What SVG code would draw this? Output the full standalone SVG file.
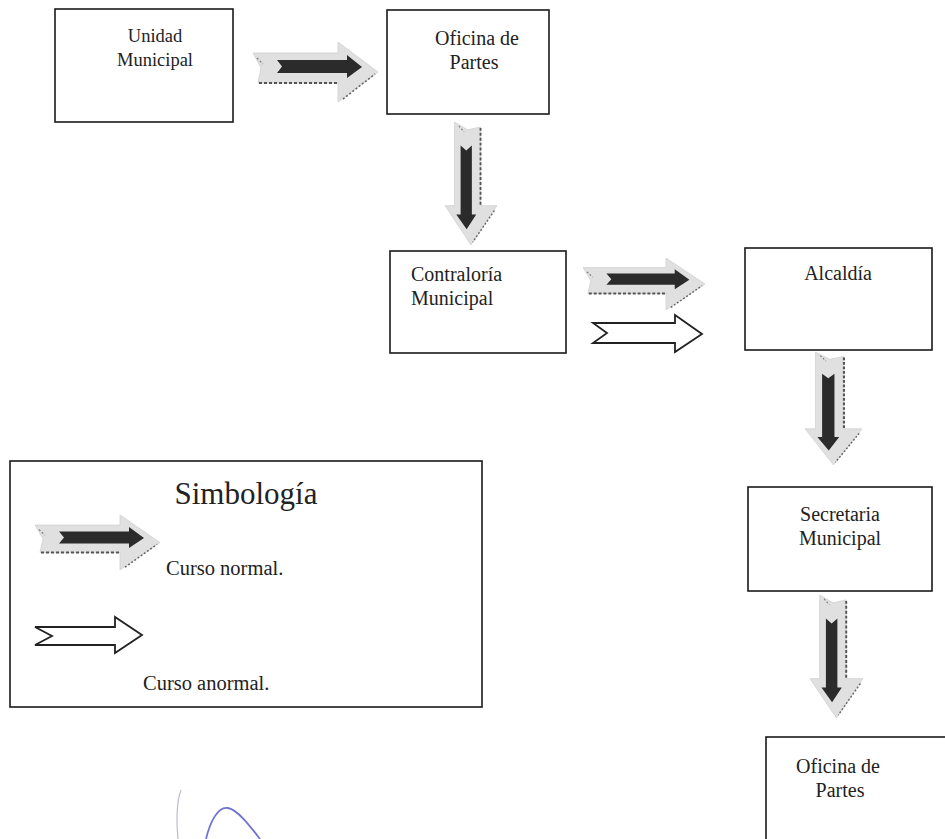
<svg xmlns="http://www.w3.org/2000/svg" xmlns:xlink="http://www.w3.org/1999/xlink" width="945" height="839" viewBox="0 0 945 839">
<defs>
<style>
.box{fill:#fff;stroke:#1a1a1a;stroke-width:1.6}
.t{font-family:"Liberation Serif","Times New Roman",serif;font-size:20px;fill:#222}
.c{text-anchor:middle}
.hollow{fill:#fff;stroke:#222;stroke-width:1.8;stroke-linejoin:miter}
</style>
<symbol id="nrm" viewBox="0 0 125 60" preserveAspectRatio="none">
<polygon points="0,11 85,11 85,0 125,30 85,60 85,41 5,41 8,26" fill="#e0e0e0" stroke="#cfcfcf" stroke-width="0.8"/>
<line x1="6" y1="41" x2="84" y2="41" stroke="#555" stroke-width="2.2" stroke-dasharray="3,2"/>
<line x1="90" y1="57" x2="122" y2="32" stroke="#666" stroke-width="1.6" stroke-dasharray="2,2"/>
<line x1="4" y1="16" x2="10" y2="22" stroke="#777" stroke-width="1.2" stroke-dasharray="2,2"/>
<polygon points="24,18 94,18 94,13 109,25 94,36 94,31 24,31 29,24.5" fill="#2b2b2b"/>
</symbol>
</defs>
<rect width="945" height="839" fill="#fff"/>
<g id="connectors">
<use xlink:href="#nrm" x="253" y="42" width="125" height="60"/>
<use xlink:href="#nrm" width="123" height="52" transform="translate(445,122) rotate(90) scale(1,-1)"/>
<use xlink:href="#nrm" x="583" y="258" width="122" height="52"/>
<polygon class="hollow" points="593,323 675,323 675,315 702,334 675,352 675,343 593,343 607,333"/>
<use xlink:href="#nrm" width="113" height="57" transform="translate(805,352) rotate(90) scale(1,-1)"/>
<use xlink:href="#nrm" width="123" height="53" transform="translate(810,595) rotate(90) scale(1,-1)"/>
</g>
<g id="unidad-municipal">
<rect class="box" x="55" y="9" width="178" height="113"/>
<text class="t c" x="155" y="42" style="font-size:18.5px">Unidad</text>
<text class="t c" x="155" y="66" style="font-size:18.5px">Municipal</text>
</g>
<g id="oficina-partes-1">
<rect class="box" x="387" y="10" width="162" height="104"/>
<text class="t c" x="477" y="45">Oficina de</text>
<text class="t c" x="474" y="69">Partes</text>
</g>
<g id="contraloria">
<rect class="box" x="390" y="251" width="176" height="102"/>
<text class="t" x="411" y="281">Contraloría</text>
<text class="t" x="411" y="305">Municipal</text>
</g>
<g id="alcaldia">
<rect class="box" x="745" y="248" width="187" height="102"/>
<text class="t c" x="838" y="280">Alcaldía</text>
</g>
<g id="secretaria">
<rect class="box" x="748" y="487" width="184" height="104"/>
<text class="t c" x="840" y="521">Secretaria</text>
<text class="t c" x="840" y="545">Municipal</text>
</g>
<g id="oficina-partes-2">
<rect class="box" x="766" y="737" width="185" height="110"/>
<text class="t c" x="838" y="773">Oficina de</text>
<text class="t c" x="840" y="797">Partes</text>
</g>
<g id="simbologia">
<rect class="box" x="10" y="461" width="472" height="246"/>
<text class="t c" x="246" y="504" style="font-size:31px">Simbología</text>
<use xlink:href="#nrm" x="35" y="515" width="125" height="55"/>
<text class="t" x="166" y="575" style="font-size:20.5px">Curso normal.</text>
<polygon class="hollow" points="35,627 115,627 115,617 142,635 115,653 115,645 35,645 52,636"/>
<text class="t" x="143" y="690" style="font-size:20.5px">Curso anormal.</text>
</g>
<g id="scribble" fill="none">
<path d="M178,839 C176,820 177,800 181,790" stroke="#b9bcd6" stroke-width="1.2"/>
<path d="M206,839 C210,822 218,806 228,808 C238,810 250,826 260,839" stroke="#6f74d0" stroke-width="1.8"/>
</g>
</svg>
